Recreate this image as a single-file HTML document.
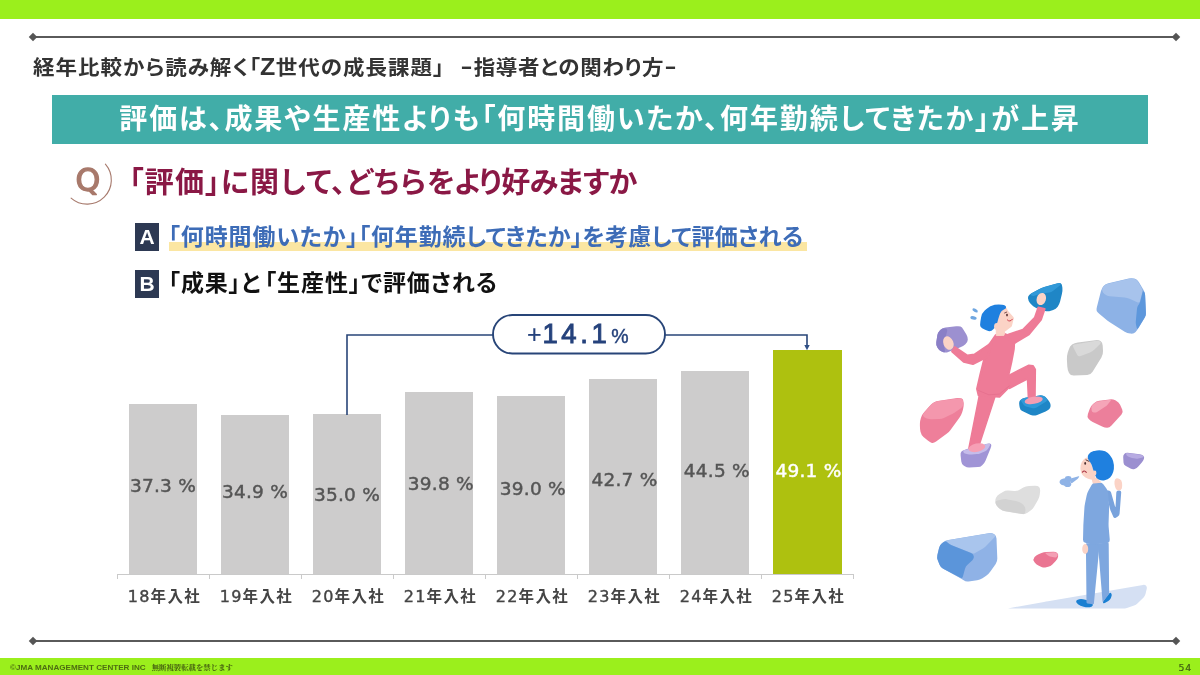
<!DOCTYPE html>
<html lang="ja">
<head>
<meta charset="utf-8">
<title>Z世代の成長課題</title>
<style>
html,body{margin:0;padding:0;}
body{width:1200px;height:675px;position:relative;overflow:hidden;background:#fff;
  font-family:"Liberation Sans","Noto Sans CJK JP",sans-serif;}
.abs{position:absolute;white-space:nowrap;}
.jp{font-family:"Liberation Sans","Noto Sans CJK JP",sans-serif;font-feature-settings:"palt" 1;}
#topbar{left:0;top:0;width:1200px;height:19px;background:#9bef1c;}
#botbar{left:0;top:658px;width:1200px;height:17px;background:#9bef1c;}
.rule{left:33px;width:1143px;height:2px;background:#5a5a5a;}
.dia{width:6px;height:6px;background:#555;transform:rotate(45deg);}
#title{left:33px;top:51px;font-size:21.5px;line-height:32px;font-weight:700;color:#333;font-feature-settings:"palt" 1;letter-spacing:1px;transform-origin:0 26px;transform:translateY(0.4px) scaleY(0.94);}
.hy{display:inline-block;transform:translate(1.400px,-2.200px) scaleX(1.68);transform-origin:0 50%;width:11px;}
#banner{left:52px;top:95px;width:1096px;height:49px;background:#41ada8;}
#bannertxt{left:52px;top:95.500px;width:1096px;height:49px;line-height:47px;text-align:center;color:#fff;font-weight:700;font-size:28px;letter-spacing:1.9px;}
#qtxt{left:129px;top:162px;font-size:29px;line-height:42px;font-weight:700;color:#8a1845;letter-spacing:1.4px;}
.box{left:135px;width:24px;height:28px;background:#2d3953;color:#fff;font-weight:700;font-size:21px;line-height:28px;text-align:center;}
#hl{left:169px;top:242px;width:638px;height:9px;background:#fbe6a2;}
#atxt{left:168.500px;top:220.500px;font-size:23px;line-height:32px;font-weight:700;color:#3d6cb7;letter-spacing:0.28px;}
#btxt{left:168.500px;top:267px;font-size:23px;line-height:32px;font-weight:700;color:#111;letter-spacing:0.9px;}
.bar{background:#cdcccc;width:68.500px;}
.bar.hi{background:#aec10f;}
.val.hiv{color:#fff;}
#pilltxt{left:491.900px;top:315px;width:172px;height:39px;line-height:38px;text-align:center;font-family:"Liberation Sans",sans-serif;font-size:27.5px;font-weight:400;color:#25427c;letter-spacing:3.6px;-webkit-text-stroke:0.9px currentColor;}
#pilltxt .sm{font-size:19.5px;font-weight:400;-webkit-text-stroke:0.4px currentColor;letter-spacing:0;position:relative;top:-0.500px;margin-left:1px;}
#pilltxt .pl{font-size:25px;font-weight:400;-webkit-text-stroke:0.2px currentColor;letter-spacing:0;position:relative;top:-0.500px;margin-right:0.700px;}
.val{font-family:"DejaVu Sans","Liberation Sans",sans-serif;font-size:18.5px;line-height:24px;color:#555;width:92px;text-align:center;letter-spacing:0.2px;font-weight:400;-webkit-text-stroke:0.45px currentColor;}
.lab{font-family:"Liberation Sans","Noto Sans CJK JP",sans-serif;font-size:15.5px;line-height:22px;color:#444;width:92px;text-align:center;letter-spacing:1.4px;font-weight:700;top:585.500px;margin-left:1.500px;}
.lab .d{font-family:"DejaVu Sans","Liberation Sans",sans-serif;font-weight:400;font-size:16px;-webkit-text-stroke:0.4px currentColor;letter-spacing:1.2px;}
#foot{left:10px;top:663px;font-size:8.1px;line-height:10px;color:#4d6d12;font-weight:700;}
#pg{left:1168px;width:24px;text-align:right;top:661.800px;font-family:"DejaVu Sans","Liberation Sans",sans-serif;font-size:9.4px;line-height:12px;color:#3f5c14;letter-spacing:0.8px;-webkit-text-stroke:0.2px currentColor;}
</style>
</head>
<body>
<div class="abs" id="topbar"></div>
<div class="abs" id="botbar"></div>
<div class="abs rule" style="top:36px"></div>
<div class="abs dia" style="left:30px;top:34px"></div>
<div class="abs dia" style="left:1173px;top:34px"></div>
<div class="abs rule" style="top:640px"></div>
<div class="abs dia" style="left:30px;top:638px"></div>
<div class="abs dia" style="left:1173px;top:638px"></div>

<div class="abs jp" id="title">経年比較から読み解く「<span style="display:inline-block;font-size:25px;line-height:20px;letter-spacing:0;margin:0 0.500px 0 -1px">Z</span>世代の成長課題」<span class="hy" style="margin-left:14px">-</span><span style="margin-left:4px;letter-spacing:0.6px">指導者との関わり方</span><span class="hy" style="margin-left:-1.200px">-</span></div>
<div class="abs" id="banner"></div>
<div class="abs jp" id="bannertxt">評価は、成果や生産性よりも「何時間働いたか、何年勤続してきたか」が上昇</div>

<svg class="abs" id="qicon" style="left:55px;top:150px" width="70" height="65" viewBox="55 150 70 65">
  <path d="M105.4 164.1 A24.2 24.2 0 0 1 71.1 198.1" fill="none" stroke="#a87b6e" stroke-width="1.1" stroke-linecap="round"/>
  <text x="88" y="191" text-anchor="middle" font-family="DejaVu Sans, Liberation Sans, sans-serif" font-weight="400" font-size="31.500" fill="#a8796b" stroke="#a8796b" stroke-width="1.300" stroke-linejoin="round">Q</text>
</svg>
<div class="abs jp" id="qtxt"><span style="letter-spacing:1.2px">「評価」に関して、どちら</span><span style="letter-spacing:-0.6px">をより好みますか</span></div>

<div class="abs box" style="top:222.700px">A</div>
<div class="abs" id="hl"></div>
<div class="abs jp" id="atxt"><span style="letter-spacing:0.85px">「何時間働いたか」「何年勤</span>続してきたか」を考慮して評価される</div>
<div class="abs box" style="top:270px">B</div>
<div class="abs jp" id="btxt">「成果」と<span style="margin-left:3.500px">「生産性」で評価される</span></div>

<svg class="abs" id="illus" style="left:900px;top:260px" width="290" height="360" viewBox="900 260 290 360">
<path d="M1096.7 311.1 Q1096.1 310.0 1096.9 307.1 L1100.9 291.2 Q1101.7 288.3 1103.6 286.1 L1103.6 286.1 Q1105.6 283.9 1108.5 283.2 L1128.7 278.5 Q1131.7 277.8 1134.4 278.6 L1134.4 278.6 Q1137.2 279.4 1138.8 282.0 L1143.4 289.7 Q1145.0 292.2 1145.1 295.2 L1146.0 312.6 Q1146.1 315.6 1144.5 318.1 L1138.8 327.4 Q1137.2 330.0 1135.6 331.9 L1135.6 331.9 Q1133.9 333.9 1130.9 333.6 L1130.2 333.6 Q1127.2 333.3 1124.7 331.7 L1109.8 322.2 Q1107.2 320.6 1104.9 318.6 L1099.5 314.1 Q1097.2 312.2 1096.7 311.1 Z" fill="#8db2e6"/>
<path d="M1102.2 290.7 Q1101.7 288.7 1103.3 286.8 L1103.9 286.1 Q1105.6 284.2 1108.0 283.7 L1129.2 278.7 Q1131.7 278.1 1134.1 278.9 L1134.6 279.0 Q1137.0 279.8 1138.2 282.0 L1141.5 287.8 Q1142.8 290.0 1142.2 292.4 L1140.1 300.9 Q1139.4 303.3 1137.2 302.3 L1129.5 298.8 Q1127.2 297.8 1124.7 297.6 L1109.7 296.3 Q1107.2 296.1 1105.2 294.6 L1104.8 294.3 Q1102.8 292.8 1102.2 290.7 Z" fill="#a7c3ec"/>
<path d="M1142.5 292.5 Q1143.0 290.6 1144.0 291.7 L1144.0 291.7 Q1145.0 292.8 1145.1 294.8 L1145.9 313.6 Q1146.0 315.6 1144.9 317.3 L1138.3 328.1 Q1137.2 329.8 1136.7 327.8 L1136.1 325.3 Q1135.6 323.3 1135.8 321.3 L1137.0 308.7 Q1137.2 306.7 1138.4 305.1 L1138.5 304.9 Q1139.7 303.3 1140.2 301.4 Z" fill="#5d97dc"/>
<path d="M1066.9 359.6 Q1066.7 356.1 1067.7 352.8 L1068.8 349.4 Q1069.8 346.0 1072.1 344.5 L1072.1 344.5 Q1074.5 342.9 1077.9 342.5 L1095.1 340.2 Q1098.6 339.8 1100.5 341.0 L1100.5 341.0 Q1102.5 342.1 1102.7 345.6 L1103.0 351.1 Q1103.2 354.6 1101.4 357.6 L1092.6 371.8 Q1090.8 374.8 1087.3 374.9 L1074.1 375.4 Q1070.6 375.6 1069.0 372.9 L1069.0 372.9 Q1067.5 370.1 1067.3 366.6 Z" fill="#c9c9c9"/>
<path d="M1073.2 347.0 Q1072.1 344.8 1074.6 344.4 L1096.1 340.8 Q1098.6 340.4 1100.1 341.5 L1100.1 341.5 Q1101.7 342.6 1099.9 344.3 L1094.2 349.7 Q1092.4 351.5 1090.0 352.4 L1080.7 356.0 Q1078.3 356.9 1077.1 354.7 L1075.7 352.1 Q1074.5 349.9 1073.4 347.6 Z" fill="#d9d9d9"/>
<path d="M1088.5 418.8 Q1086.9 416.8 1087.9 414.0 L1089.8 408.8 Q1090.8 405.9 1093.1 404.0 L1094.0 403.2 Q1096.2 401.3 1099.2 400.8 L1109.6 399.4 Q1112.6 398.9 1115.3 400.3 L1116.1 400.7 Q1118.8 402.0 1120.1 404.8 L1122.2 409.4 Q1123.5 412.2 1121.5 414.4 L1111.5 425.5 Q1109.5 427.7 1107.1 427.7 L1107.1 427.7 Q1104.8 427.7 1102.1 426.4 L1092.7 422.0 Q1090.0 420.7 1088.5 418.8 Z" fill="#ec7f9b"/>
<path d="M1091.4 408.1 Q1091.3 406.1 1092.8 404.8 L1094.9 403.0 Q1096.4 401.7 1098.4 401.5 L1109.8 399.8 Q1111.8 399.6 1110.5 401.1 L1107.7 404.4 Q1106.4 405.9 1104.7 407.0 L1097.1 411.9 Q1095.5 412.9 1093.6 412.5 L1093.6 412.5 Q1091.7 412.2 1091.6 410.2 Z" fill="#f5a5b8"/>
<path d="M919.9 423.8 Q919.9 420.8 920.9 417.9 L921.1 417.4 Q922.1 414.5 924.1 412.3 L929.9 405.7 Q931.9 403.4 934.1 402.3 L934.1 402.3 Q936.3 401.2 939.3 400.8 L957.3 398.1 Q960.3 397.7 961.9 398.6 L961.9 398.6 Q963.4 399.4 963.6 402.4 L963.7 403.6 Q963.9 406.5 963.0 409.4 L962.1 412.6 Q961.2 415.4 959.4 417.8 L950.5 429.9 Q948.8 432.3 946.3 434.1 L936.1 441.6 Q933.7 443.4 931.9 443.0 L931.9 443.0 Q930.1 442.5 927.8 440.6 L923.5 436.9 Q921.2 435.0 920.6 432.0 L920.5 431.7 Q919.9 428.8 919.9 425.8 Z" fill="#ee7f9a"/>
<path d="M923.1 416.0 Q922.3 414.8 923.9 412.9 L930.2 405.6 Q931.9 403.7 934.1 402.6 L934.1 402.6 Q936.3 401.5 938.8 401.1 L957.8 398.4 Q960.3 398.0 961.7 398.9 L961.7 398.9 Q963.1 399.7 963.2 402.2 L963.3 404.0 Q963.3 406.5 961.3 408.0 L954.4 412.7 Q952.3 414.1 950.0 415.1 L943.9 417.9 Q941.7 419.0 939.2 419.1 L931.7 419.3 Q929.2 419.4 926.9 418.5 L926.2 418.2 Q923.9 417.2 923.1 416.0 Z" fill="#f497ad"/>
<path d="M937.4 347.5 Q935.9 344.9 936.3 341.9 L937.3 335.4 Q937.7 332.4 939.9 330.4 L940.3 330.0 Q942.4 328.0 945.4 327.6 L956.1 326.3 Q959.0 325.9 960.5 326.5 L960.5 326.5 Q962.0 327.1 963.5 329.7 L966.4 334.6 Q967.9 337.2 967.8 339.8 L967.8 339.8 Q967.6 342.5 965.4 344.3 L965.4 344.3 Q963.2 346.1 960.4 347.2 L948.2 352.1 Q945.4 353.2 942.7 351.9 L941.6 351.5 Q938.9 350.2 937.4 347.6 Z" fill="#9c90d0"/>
<path d="M937.2 347.1 Q936.0 344.9 936.3 342.4 L937.4 335.0 Q937.8 332.5 939.6 330.8 L940.6 329.8 Q942.4 328.1 944.9 328.5 L945.3 328.5 Q947.8 328.9 947.1 331.3 L946.0 335.4 Q945.4 337.8 944.7 340.2 L944.3 341.3 Q943.6 343.7 944.1 346.2 L944.9 350.6 Q945.4 353.1 943.1 352.0 L941.2 351.2 Q938.9 350.2 937.7 348.0 Z" fill="#8a7fc6"/>
<path d="M1028.7 301.0 Q1027.3 298.3 1028.3 296.3 L1028.3 296.3 Q1029.3 294.3 1032.0 292.9 L1039.3 289.1 Q1042.0 287.7 1044.9 286.8 L1056.5 283.5 Q1059.3 282.7 1060.7 283.3 L1060.7 283.3 Q1062.0 284.0 1062.3 287.0 L1062.4 288.0 Q1062.7 291.0 1061.9 293.9 L1060.1 301.4 Q1059.3 304.3 1057.7 306.7 L1057.7 306.7 Q1056.0 309.0 1053.2 309.9 L1050.8 310.7 Q1048.0 311.7 1045.1 310.9 L1038.9 309.1 Q1036.0 308.3 1033.6 306.5 L1032.4 305.5 Q1030.0 303.7 1028.7 301.0 Z" fill="#1f86c6"/>
<path d="M1031.1 295.3 Q1029.3 294.5 1031.1 293.5 L1040.2 288.7 Q1042.0 287.8 1043.9 287.2 L1057.4 283.4 Q1059.3 282.8 1060.3 283.5 L1060.3 283.5 Q1061.3 284.1 1059.8 285.4 L1052.9 291.1 Q1051.3 292.3 1049.3 292.6 L1042.0 293.4 Q1040.0 293.7 1038.1 294.4 L1035.2 295.6 Q1033.3 296.3 1031.5 295.5 Z" fill="#3199d8"/>
<path d="M1019.3 405.2 Q1018.9 402.8 1019.5 401.3 L1019.5 401.3 Q1020.1 399.8 1022.1 398.8 L1022.1 398.8 Q1024.2 397.7 1026.7 397.4 L1039.5 395.4 Q1042.0 395.1 1043.8 396.0 L1043.8 396.0 Q1045.5 396.8 1047.1 398.8 L1048.7 400.8 Q1050.3 402.8 1050.6 405.1 L1050.6 405.1 Q1050.9 407.5 1049.4 409.0 L1049.4 409.0 Q1047.9 410.5 1045.6 411.4 L1037.2 414.9 Q1034.9 415.8 1032.8 415.5 L1032.8 415.5 Q1030.7 415.2 1028.5 414.1 L1022.3 411.0 Q1020.1 409.9 1019.7 407.4 Z" fill="#1f86c6"/>
<path d="M1021.4 401.6 Q1020.2 400.0 1022.0 399.1 L1022.4 398.8 Q1024.2 397.9 1026.2 397.6 L1040.0 395.5 Q1042.0 395.2 1043.7 396.1 L1043.7 396.1 Q1045.4 397.0 1046.6 398.6 L1046.7 398.8 Q1047.9 400.4 1046.2 401.5 L1036.6 407.6 Q1034.9 408.7 1032.9 408.2 L1026.8 406.8 Q1024.8 406.3 1023.6 404.7 Z" fill="#3199d8"/>
<path d="M960.6 455.3 Q960.3 452.8 961.5 451.6 L961.5 451.6 Q962.7 450.4 965.1 449.7 L966.2 449.3 Q968.6 448.6 971.1 448.1 L977.4 446.8 Q979.9 446.3 982.2 445.4 L985.8 444.1 Q988.2 443.3 989.7 443.6 L989.7 443.6 Q991.1 443.9 991.3 445.1 L991.3 445.1 Q991.4 446.3 990.5 448.6 L985.6 460.5 Q984.6 462.8 982.9 464.6 L982.2 465.2 Q980.5 467.0 978.0 467.1 L969.3 467.5 Q966.8 467.6 964.8 466.2 L963.6 465.4 Q961.5 464.0 961.3 461.5 Z" fill="#a094d6"/>
<path d="M963.3 452.0 Q962.7 450.6 964.6 450.0 L966.7 449.4 Q968.6 448.8 970.6 448.4 L977.9 446.8 Q979.9 446.4 981.8 445.8 L986.3 444.1 Q988.2 443.5 989.5 443.8 L989.5 443.8 Q990.8 444.1 989.8 445.8 L988.0 448.7 Q987.0 450.4 985.2 451.2 L980.5 453.2 Q978.7 454.0 976.7 454.1 L971.8 454.4 Q969.8 454.5 967.8 454.2 L965.8 453.8 Q963.9 453.4 963.3 452.0 Z" fill="#c5bcea"/>
<polygon points="980.1,391.3 995.5,394.9 978.3,447.8 968.9,448.2" fill="#ee7b97" stroke="#ee7b97" stroke-width="1.5" stroke-linejoin="round"/>
<ellipse cx="976.9" cy="447.7" rx="8.5" ry="4.2" fill="#f6a0b5" transform="rotate(-12 976.9 447.7)"/>
<polygon points="1007.4,376.3 1028.9,365.5 1033.0,365.9 1035.1,369.6 1034.8,397.0 1028.6,397.0 1027.7,378.5 1009.6,388.1" fill="#ee7b97" stroke="#ee7b97" stroke-width="2" stroke-linejoin="round"/>
<ellipse cx="1033.7" cy="400.3" rx="9.2" ry="3.6" fill="#f59db2" transform="rotate(-10 1033.7 400.3)"/>
<polygon points="996.0,335.3 1005.2,334.4 1014.1,339.3 1013.6,348.9 1011.1,362.2 1008.1,375.6 1009.9,385.9 999.3,396.6 978.8,395.1 977.3,388.9 980.7,374.1 984.4,359.3 987.7,347.1" fill="#ee7b97" stroke="#ee7b97" stroke-width="2.5" stroke-linejoin="round"/>
<path d="M978.2 390.4 L988.9 394.8 L999.3 394.1 L1009.3 385.9" fill="none" stroke="#e56f8d" stroke-width="0.8" stroke-linecap="round" stroke-linejoin="round"/>
<polygon points="992.1,342.7 974.4,354.5 967.4,355.6 954.8,347.1 952.1,351.4 963.7,361.8 972.9,364.0 987.7,356.6" fill="#ee7b97" stroke="#ee7b97" stroke-width="2" stroke-linejoin="round"/>
<polygon points="1005.2,335.6 1023.0,329.6 1034.8,317.8 1038.4,307.4 1044.6,308.9 1041.0,319.6 1028.9,334.4 1014.1,343.3" fill="#ee7b97" stroke="#ee7b97" stroke-width="2" stroke-linejoin="round"/>
<ellipse cx="948.4" cy="343.1" rx="5.0" ry="7.0" fill="#fbd3c6" transform="rotate(-22 948.4 343.1)"/>
<ellipse cx="1041.3" cy="299.0" rx="4.6" ry="6.2" fill="#fbd3c6" transform="rotate(18 1041.3 299.0)"/>
<polygon points="996.3,326.7 1005.2,328.9 1004.0,335.3 996.3,335.6" fill="#fbd3c6" stroke="#fbd3c6" stroke-width="1" stroke-linejoin="round"/>
<polygon points="1000.4,310.1 1005.2,308.6 1007.4,312.6 1012.3,318.1 1010.5,325.5 1005.2,329.6 998.5,328.1 997.0,322.2 998.5,316.0" fill="#fbd3c6" stroke="#fbd3c6" stroke-width="3" stroke-linejoin="round"/>
<path d="M980.6 326.8 Q979.7 325.5 980.4 321.5 L981.1 317.3 Q981.8 313.3 984.7 310.6 L987.1 308.4 Q990.1 305.6 994.0 304.9 L994.6 304.8 Q998.5 304.1 1002.1 304.7 L1002.1 304.7 Q1005.8 305.3 1006.1 307.0 L1006.1 307.0 Q1006.5 308.6 1003.9 309.6 L1003.9 309.6 Q1001.3 310.7 1000.1 313.5 L1000.1 313.5 Q999.0 316.3 998.2 319.3 L998.2 319.3 Q997.5 322.2 996.7 324.3 L996.7 324.3 Q996.0 326.4 993.3 329.3 L993.3 329.3 Q990.7 332.3 987.0 330.6 L985.1 329.8 Q981.5 328.1 980.6 326.8 Z" fill="#1f80df"/>
<ellipse cx="996.9" cy="326.4" rx="2.8" ry="3.4" fill="#fbd3c6"/>
<ellipse cx="1007.0" cy="315.1" rx="0.9" ry="1.3" fill="#5a3030"/>
<path d="M1004.6 313.0 L1006.7 312.1" fill="none" stroke="#5a3030" stroke-width="0.8" stroke-linecap="round" stroke-linejoin="round"/>
<path d="M1007.4 320.0 q2.500 2.600 5 -0.800" fill="none" stroke="#d04050" stroke-width="1" stroke-linecap="round"/>
<ellipse cx="975.1" cy="310.4" rx="3.0" ry="1.5" fill="#6fa6e0" transform="rotate(30 975.1 310.4)"/>
<ellipse cx="973.5" cy="317.8" rx="3.2" ry="1.7" fill="#6fa6e0" transform="rotate(12 973.5 317.8)"/>
<path d="M995.5 503.1 Q994.9 500.6 995.9 498.0 L995.9 498.0 Q996.9 495.5 999.5 493.9 L1002.9 491.9 Q1005.5 490.3 1008.4 490.6 L1014.4 491.0 Q1017.4 491.2 1020.0 489.6 L1023.3 487.6 Q1025.9 486.1 1028.9 486.0 L1034.8 485.7 Q1037.8 485.6 1039.1 487.1 L1039.1 487.1 Q1040.4 488.6 1040.1 491.6 L1039.8 494.2 Q1039.5 497.2 1038.1 499.8 L1034.2 506.5 Q1032.7 509.1 1030.3 510.8 L1027.5 512.8 Q1025.1 514.5 1022.1 514.1 L1005.0 511.3 Q1002.0 510.8 999.8 508.8 L998.4 507.6 Q996.1 505.7 995.5 503.1 Z" fill="#dedede"/>
<path d="M995.6 503.3 Q995.1 500.9 997.5 500.4 L1003.0 499.3 Q1005.5 498.9 1007.9 499.4 L1018.4 501.7 Q1020.8 502.3 1022.5 504.1 L1023.9 505.6 Q1025.6 507.4 1025.4 509.9 L1025.2 511.9 Q1025.1 514.4 1022.6 514.0 L1004.5 511.0 Q1002.0 510.6 1000.1 509.0 L998.0 507.3 Q996.1 505.7 995.6 503.3 Z" fill="#d2d2d2"/>
<path d="M937.9 560.5 Q936.7 557.7 937.4 554.8 L939.0 548.1 Q939.6 545.2 941.9 543.3 L943.1 542.3 Q945.4 540.4 948.4 539.9 L988.6 533.2 Q991.6 532.7 994.0 534.1 L994.0 534.1 Q996.4 535.6 996.5 538.6 L997.3 558.6 Q997.4 561.6 995.7 564.0 L990.4 571.6 Q988.7 574.1 986.2 575.7 L982.5 578.2 Q980.0 579.9 977.1 580.3 L968.6 581.4 Q965.6 581.8 963.7 580.3 L963.7 580.3 Q961.8 578.9 959.1 577.5 L943.2 568.8 Q940.6 567.3 939.5 564.6 Z" fill="#8fb2e6"/>
<path d="M947.0 541.9 Q945.6 540.5 947.6 540.2 L989.6 533.2 Q991.6 532.9 993.3 533.9 L994.5 534.6 Q996.2 535.7 994.8 537.1 L985.3 546.7 Q983.9 548.1 982.1 549.1 L975.1 552.9 Q973.3 553.9 971.5 553.1 L951.1 545.0 Q949.2 544.2 947.9 542.8 Z" fill="#a9c5ed"/>
<path d="M937.7 560.1 Q936.8 557.7 937.4 555.3 L939.2 547.7 Q939.7 545.3 941.6 543.7 L943.5 542.2 Q945.4 540.6 947.2 542.3 L947.4 542.5 Q949.2 544.2 951.6 545.2 L971.0 552.9 Q973.3 553.9 973.8 556.3 L973.8 556.3 Q974.3 558.7 972.4 560.3 L967.5 564.7 Q965.6 566.4 965.0 568.8 L962.9 576.4 Q962.2 578.8 960.0 577.6 L942.8 568.5 Q940.6 567.3 939.7 565.0 Z" fill="#5b95da"/>
<path d="M1034.1 561.5 Q1032.7 559.4 1034.3 557.4 L1034.6 557.1 Q1036.1 555.1 1038.5 554.2 L1041.5 553.0 Q1043.8 552.0 1046.3 552.0 L1053.2 551.8 Q1055.7 551.7 1057.2 553.0 L1057.2 553.0 Q1058.6 554.3 1058.1 556.7 L1058.0 556.9 Q1057.4 559.4 1055.7 561.1 L1052.4 564.4 Q1050.6 566.2 1048.2 566.8 L1046.2 567.3 Q1043.8 567.9 1041.5 566.9 L1038.4 565.5 Q1036.1 564.5 1034.7 562.4 Z" fill="#ea7592"/>
<path d="M1045.8 553.7 Q1044.7 552.7 1046.2 552.7 L1054.1 552.3 Q1055.6 552.2 1056.7 553.2 L1057.0 553.4 Q1058.1 554.4 1057.5 555.8 L1057.2 556.3 Q1056.6 557.7 1055.1 557.4 L1049.9 556.4 Q1048.4 556.1 1047.3 555.1 Z" fill="#f4a0b5"/>
<path d="M1009.0 608.6 Q1007.0 608.6 1009.0 608.2 L1044.0 601.9 Q1046.0 601.5 1048.0 601.2 L1143.0 584.9 Q1145.0 584.6 1146.1 585.8 L1146.1 585.8 Q1147.2 587.0 1146.7 588.9 L1145.5 594.1 Q1145.0 596.0 1143.6 597.4 L1137.4 603.6 Q1136.0 605.0 1134.1 605.6 L1126.9 608.0 Q1125.0 608.6 1123.0 608.6 Z" fill="#d5e0f3"/>
<path d="M1123.2 457.3 Q1123.0 455.1 1124.3 453.9 L1124.3 453.9 Q1125.5 452.6 1127.7 452.8 L1129.6 453.0 Q1131.8 453.2 1134.0 453.5 L1139.7 454.2 Q1141.9 454.5 1143.3 455.7 L1143.3 455.7 Q1144.7 457.0 1143.9 458.9 L1143.9 458.9 Q1143.2 460.8 1141.8 462.5 L1138.3 466.6 Q1136.9 468.3 1134.7 468.9 L1134.6 469.0 Q1132.5 469.6 1130.5 468.5 L1125.5 465.7 Q1123.6 464.6 1123.5 462.4 Z" fill="#9b8fd0"/>
<path d="M1126.2 454.4 Q1125.7 453.0 1127.1 453.1 L1130.3 453.4 Q1131.8 453.6 1133.3 453.8 L1140.4 454.7 Q1141.9 454.9 1143.0 455.9 L1143.0 455.9 Q1144.0 457.0 1142.6 457.4 L1138.3 458.5 Q1136.9 458.9 1135.4 458.6 L1132.0 457.9 Q1130.6 457.6 1129.2 457.0 L1128.1 456.5 Q1126.8 455.9 1126.2 454.5 Z" fill="#b7abe2"/>
<ellipse cx="1084.5" cy="603.2" rx="8.6" ry="3.6" fill="#1a7fd2" transform="rotate(14 1084.5 603.2)"/>
<path d="M1107.8 595.1 Q1109.0 593.5 1109.8 592.9 L1109.8 592.9 Q1110.5 592.2 1111.3 593.5 L1111.3 593.5 Q1112.2 594.8 1111.4 596.6 L1110.8 598.2 Q1110.0 600.0 1108.3 601.0 L1105.7 602.5 Q1104.0 603.5 1103.2 602.9 L1103.2 602.9 Q1102.5 602.2 1103.7 600.6 Z" fill="#1a7fd2"/>
<path d="M1085.9 544.3 Q1085.9 543.3 1086.9 543.3 L1098.1 543.3 Q1099.1 543.3 1099.1 544.3 L1098.9 551.8 Q1098.8 552.8 1098.7 553.8 L1093.9 603.5 Q1093.8 604.5 1092.8 604.3 L1087.5 603.4 Q1086.5 603.2 1086.5 602.2 Z" fill="#7ea7df"/>
<path d="M1097.9 544.3 Q1097.8 543.3 1098.8 543.3 L1107.7 542.8 Q1108.7 542.7 1108.7 543.7 L1109.1 589.6 Q1109.2 590.6 1109.1 591.6 L1109.0 593.2 Q1109.0 594.2 1108.4 595.0 L1103.2 601.4 Q1102.6 602.2 1102.5 601.2 L1098.7 553.8 Q1098.6 552.8 1098.5 551.8 Z" fill="#7ea7df"/>
<ellipse cx="1085.2" cy="549.0" rx="3.0" ry="5.0" fill="#fbd3c6"/>
<path d="M1105.9 492.3 Q1105.4 490.4 1107.4 490.4 L1108.4 490.4 Q1110.4 490.4 1111.0 492.3 L1114.9 506.1 Q1115.5 508.0 1115.6 506.0 L1116.3 492.4 Q1116.5 490.4 1118.5 490.5 L1119.4 490.5 Q1121.4 490.6 1121.2 492.6 L1119.6 513.6 Q1119.5 515.6 1117.8 516.6 L1115.9 517.7 Q1114.2 518.7 1113.4 516.9 L1111.3 512.3 Q1110.4 510.5 1109.9 508.6 Z" fill="#78a2dc"/>
<path d="M1114.5 481.5 Q1114.8 479.0 1116.1 478.4 L1116.1 478.4 Q1117.3 477.8 1119.5 479.0 L1119.6 479.1 Q1121.8 480.3 1122.0 482.8 L1122.1 484.1 Q1122.4 486.6 1121.8 488.6 L1121.8 488.6 Q1121.1 490.6 1118.8 490.6 L1118.8 490.6 Q1116.5 490.6 1115.6 488.3 L1115.0 486.4 Q1114.2 484.1 1114.5 481.6 Z" fill="#fbd3c6"/>
<path d="M1091.6 485.0 Q1092.8 482.8 1095.3 482.6 L1099.4 482.4 Q1101.9 482.2 1103.3 484.2 L1106.4 488.4 Q1107.9 490.4 1108.1 492.9 L1108.9 503.0 Q1109.2 505.5 1109.1 508.0 L1108.6 522.6 Q1108.5 525.1 1108.7 527.6 L1109.7 539.0 Q1109.9 541.4 1108.9 542.3 L1108.9 542.3 Q1107.9 543.1 1105.4 543.3 L1094.0 544.2 Q1091.5 544.3 1089.1 543.7 L1085.4 542.8 Q1083.0 542.2 1083.0 539.7 L1083.3 527.6 Q1083.3 525.1 1083.5 522.6 L1084.4 508.0 Q1084.6 505.5 1085.1 503.0 L1086.7 495.3 Q1087.2 492.9 1088.4 490.7 Z" fill="#7ea7df"/>
<path d="M1091.2 477.5 Q1090.9 476.5 1091.9 476.7 L1095.6 477.6 Q1096.6 477.8 1097.3 478.5 L1101.1 481.9 Q1101.9 482.6 1100.9 482.7 L1093.8 483.5 Q1092.8 483.6 1092.5 482.6 Z" fill="#fbd3c6"/>
<path d="M1087.9 458.3 Q1087.5 456.8 1085.4 458.1 L1085.4 458.1 Q1083.3 459.5 1081.9 462.1 L1081.6 462.6 Q1080.2 465.2 1080.4 468.2 L1080.6 470.0 Q1080.8 473.0 1082.8 475.3 L1083.3 475.8 Q1085.2 478.0 1088.1 478.8 L1089.9 479.3 Q1092.8 480.1 1094.2 478.9 L1094.2 478.9 Q1095.6 477.8 1095.2 474.9 L1095.2 474.9 Q1094.8 472.1 1093.5 470.2 L1093.5 470.2 Q1092.3 468.3 1091.8 465.8 L1091.8 465.8 Q1091.4 463.3 1089.8 461.6 L1089.8 461.6 Q1088.2 459.9 1087.9 458.3 Z" fill="#fbd3c6"/>
<path d="M1087.8 458.3 Q1087.1 456.4 1088.7 454.2 L1088.7 454.2 Q1090.3 452.0 1093.7 451.1 L1094.4 450.9 Q1097.8 450.1 1101.3 450.4 L1101.9 450.4 Q1105.4 450.7 1107.9 452.9 L1107.9 452.9 Q1110.4 455.1 1112.0 458.2 L1112.0 458.3 Q1113.6 461.4 1113.9 464.9 L1113.9 465.5 Q1114.2 469.0 1113.2 472.1 L1113.2 472.1 Q1112.3 475.3 1110.1 477.5 L1110.1 477.5 Q1107.9 479.7 1104.7 480.3 L1104.7 480.3 Q1101.6 480.9 1098.6 479.4 L1098.6 479.4 Q1095.6 477.8 1095.2 475.3 L1095.2 475.3 Q1094.8 472.7 1093.8 470.9 L1093.8 470.9 Q1092.8 469.0 1092.2 466.4 L1092.2 466.4 Q1091.5 463.9 1090.0 462.0 L1090.0 462.0 Q1088.5 460.2 1087.8 458.3 Z" fill="#1f80df"/>
<ellipse cx="1094.8" cy="473.0" rx="1.6" ry="2.4" fill="#fbd3c6"/>
<ellipse cx="1085.2" cy="463.4" rx="0.9" ry="1.3" fill="#4a3030"/>
<path d="M1086.0 459.9 L1089.0 461.4" fill="none" stroke="#4a3030" stroke-width="0.9" stroke-linecap="round" stroke-linejoin="round"/>
<path d="M1082.5 472.1 q1.800 -2.200 3.800 0.200" fill="none" stroke="#a83040" stroke-width="1.100" stroke-linecap="round"/>
<ellipse cx="1065.1" cy="481.8" rx="5.6" ry="3.6" fill="#8fb3e6" transform="rotate(-5 1065.1 481.8)"/>
<ellipse cx="1067.6" cy="484.3" rx="3.6" ry="2.8" fill="#8fb3e6"/>
<ellipse cx="1068.2" cy="478.4" rx="3.2" ry="2.4" fill="#8fb3e6"/>
<path d="M1069.4 479.9 Q1068.9 479.0 1069.8 478.8 L1078.6 476.2 Q1079.6 475.9 1079.1 476.8 L1078.7 477.5 Q1078.3 478.4 1077.5 479.0 L1072.2 482.9 Q1071.4 483.5 1070.9 482.6 Z" fill="#8fb3e6"/>
</svg>
<!-- chart -->
<div class="abs" style="left:117px;top:574px;width:737px;height:1px;background:#cacaca"></div>
<div class="abs" style="left:116.5px;top:574px;width:1px;height:5px;background:#cacaca"></div>
<div class="abs" style="left:208.5px;top:574px;width:1px;height:5px;background:#cacaca"></div>
<div class="abs" style="left:300.5px;top:574px;width:1px;height:5px;background:#cacaca"></div>
<div class="abs" style="left:392.5px;top:574px;width:1px;height:5px;background:#cacaca"></div>
<div class="abs" style="left:484.5px;top:574px;width:1px;height:5px;background:#cacaca"></div>
<div class="abs" style="left:576.5px;top:574px;width:1px;height:5px;background:#cacaca"></div>
<div class="abs" style="left:668.5px;top:574px;width:1px;height:5px;background:#cacaca"></div>
<div class="abs" style="left:760.5px;top:574px;width:1px;height:5px;background:#cacaca"></div>
<div class="abs" style="left:852.5px;top:574px;width:1px;height:5px;background:#cacaca"></div>
<div class="abs bar" style="left:128.5px;top:403.9px;height:170.6px"></div>
<div class="abs jp val" style="left:117px;top:474px">37.3 %</div>
<div class="abs jp lab" style="left:117px"><span class="d">18</span>年入社</div>
<div class="abs bar" style="left:220.5px;top:414.8px;height:159.7px"></div>
<div class="abs jp val" style="left:209px;top:480px">34.9 %</div>
<div class="abs jp lab" style="left:209px"><span class="d">19</span>年入社</div>
<div class="abs bar" style="left:312.5px;top:414.4px;height:160.1px"></div>
<div class="abs jp val" style="left:301px;top:483px">35.0 %</div>
<div class="abs jp lab" style="left:301px"><span class="d">20</span>年入社</div>
<div class="abs bar" style="left:404.5px;top:392.4px;height:182.1px"></div>
<div class="abs jp val" style="left:394.800px;top:471.500px">39.8 %</div>
<div class="abs jp lab" style="left:393px"><span class="d">21</span>年入社</div>
<div class="abs bar" style="left:496.5px;top:396.1px;height:178.4px"></div>
<div class="abs jp val" style="left:486.800px;top:477px">39.0 %</div>
<div class="abs jp lab" style="left:485px"><span class="d">22</span>年入社</div>
<div class="abs bar" style="left:588.5px;top:379.1px;height:195.4px"></div>
<div class="abs jp val" style="left:578.500px;top:467.500px">42.7 %</div>
<div class="abs jp lab" style="left:577px"><span class="d">23</span>年入社</div>
<div class="abs bar" style="left:680.5px;top:370.9px;height:203.6px"></div>
<div class="abs jp val" style="left:670.800px;top:459px">44.5 %</div>
<div class="abs jp lab" style="left:669px"><span class="d">24</span>年入社</div>
<div class="abs bar hi" style="left:773.300px;top:349.9px;height:224.6px"></div>
<div class="abs jp val hiv" style="left:762.500px;top:459px">49.1 %</div>
<div class="abs jp lab" style="left:761px"><span class="d">25</span>年入社</div>
<svg class="abs" style="left:340px;top:310px" width="480" height="110" viewBox="340 310 480 110">
  <path d="M347 415 V335 H493 M665 335 H807 V346" fill="none" stroke="#284578" stroke-width="1.6"/>
  <path d="M804.300 345 L807 350.300 L809.700 345 Z" fill="#2f4f86"/>
  <rect x="493" y="315" width="172" height="38.500" rx="19.250" ry="19.250" fill="#fff" stroke="#284578" stroke-width="1.9"/>
</svg>
<div class="abs jp" id="pilltxt"><span class="pl">+</span>14.1<span class="sm">%</span></div>

<div class="abs" id="foot">©JMA MANAGEMENT CENTER INC&nbsp; <span style="font-family:'Liberation Serif','Noto Serif CJK SC',serif;font-weight:900;font-size:7.4px;margin-left:1.500px">無断複製転載を禁じます</span></div>
<div class="abs" id="pg">54</div>
</body>
</html>
